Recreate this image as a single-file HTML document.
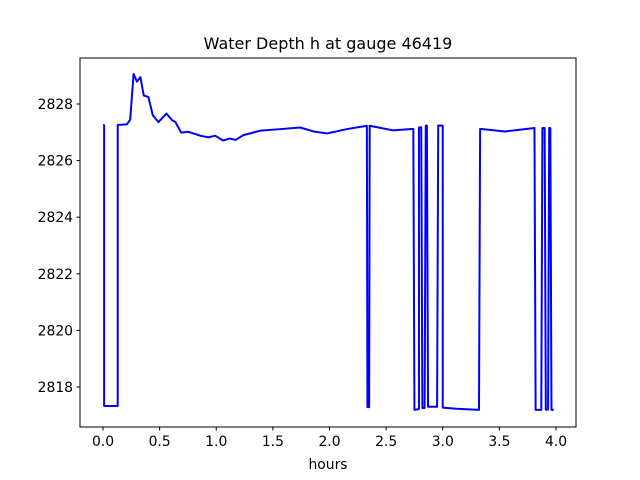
<!DOCTYPE html>
<html><head><meta charset="utf-8"><style>
body{margin:0;background:#fff}
svg{display:block;font-family:"DejaVu Sans","Liberation Sans",sans-serif}
</style></head><body>
<svg id="chart" width="640" height="480">
<rect x="0" y="0" width="640" height="480" fill="#fff"/>
<text x="328" y="49" font-size="16" text-anchor="middle">Water Depth h at gauge 46419</text>
<g id="xt"></g>
<g id="yt"></g>
<path id="line" fill="none" stroke="#0000ff" stroke-width="2" stroke-linejoin="round"/>
<rect x="80" y="58" width="496" height="369" fill="none" stroke="#000" stroke-width="1"/>
<text x="328" y="469" font-size="13.9" text-anchor="middle">hours</text>
</svg>
<script>
const times=[0.0,0.01,0.01,0.13,0.13,0.21,0.24,0.27,0.30,0.33,0.36,0.40,0.44,0.49,0.56,0.61,0.64,0.69,0.75,0.86,0.93,0.99,1.06,1.12,1.17,1.24,1.39,1.56,1.74,1.86,1.98,2.15,2.33,2.335,2.35,2.355,2.56,2.74,2.75,2.79,2.79,2.81,2.82,2.84,2.85,2.86,2.87,2.95,2.96,3.00,3.00,3.12,3.32,3.33,3.55,3.81,3.82,3.87,3.88,3.90,3.91,3.93,3.94,3.95,3.96,3.98];
const depths=[2827.26,2827.25,2817.33,2817.33,2827.26,2827.28,2827.44,2829.06,2828.79,2828.95,2828.3,2828.25,2827.6,2827.36,2827.66,2827.43,2827.36,2826.99,2827.02,2826.88,2826.82,2826.88,2826.71,2826.78,2826.73,2826.9,2827.06,2827.11,2827.17,2827.03,2826.96,2827.11,2827.23,2817.29,2817.29,2827.23,2827.07,2827.12,2817.19,2817.22,2827.17,2827.18,2817.26,2817.26,2827.23,2827.24,2817.3,2817.3,2827.24,2827.23,2817.27,2817.23,2817.19,2827.12,2827.03,2827.15,2817.19,2817.19,2827.15,2827.15,2817.2,2817.2,2827.15,2827.15,2817.19,2817.19];
const xTicks=[0.0,0.5,1.0,1.5,2.0,2.5,3.0,3.5,4.0];
const xTickLabels=["0.0","0.5","1.0","1.5","2.0","2.5","3.0","3.5","4.0"];
const yTicks=[2818,2820,2822,2824,2826,2828];
const yTickLabels=["2818","2820","2822","2824","2826","2828"];
const NS="http://www.w3.org/2000/svg";
function xs(t){return 103+t*113.25;}
function ys(h){return 104+(2828-h)*28.3;}
let d="";
for(let i=0;i<times.length;i++){d+=(i?"L":"M")+xs(times[i]).toFixed(2)+","+ys(depths[i]).toFixed(2);}
document.getElementById("line").setAttribute("d",d);
const xg=document.getElementById("xt"),yg=document.getElementById("yt");
xTicks.forEach((t,i)=>{
 const l=document.createElementNS(NS,"line");
 
 
 l.setAttribute("x1",xs(t));l.setAttribute("x2",xs(t));l.setAttribute("y1",427);l.setAttribute("y2",430.5);l.setAttribute("stroke","#000");
 xg.appendChild(l);
 const tx=document.createElementNS(NS,"text");
 
 
 tx.setAttribute("x",xs(t));tx.setAttribute("y",446);tx.setAttribute("font-size","13.9");tx.setAttribute("text-anchor","middle");
 tx.textContent=xTickLabels[i];xg.appendChild(tx);
});
yTicks.forEach((h,i)=>{
 const l=document.createElementNS(NS,"line");
 
 
 l.setAttribute("x1",76.5);l.setAttribute("x2",80);l.setAttribute("y1",ys(h));l.setAttribute("y2",ys(h));l.setAttribute("stroke","#000");
 yg.appendChild(l);
 const tx=document.createElementNS(NS,"text");
 
 
 tx.setAttribute("x",73);tx.setAttribute("y",ys(h)+5);tx.setAttribute("font-size","13.9");tx.setAttribute("text-anchor","end");
 tx.textContent=yTickLabels[i];yg.appendChild(tx);
});
</script>
</body></html>
